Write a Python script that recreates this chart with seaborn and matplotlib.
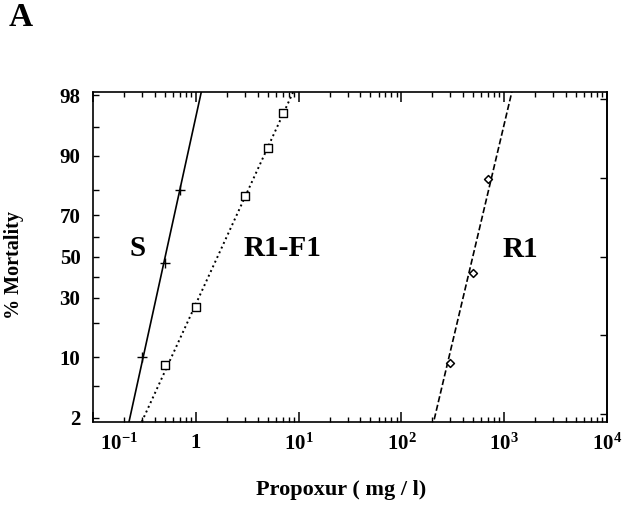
import numpy as np
import pandas as pd
import matplotlib
matplotlib.use("Agg")
import matplotlib.pyplot as plt
import matplotlib.ticker as mticker
import matplotlib.transforms as mtrans
import seaborn as sns
from statistics import NormalDist

# ---------------- data ----------------
s_dose = [0.3, 0.5, 0.7]
s_mort = [10, 47, 80]
f1_dose = [0.5, 1, 3, 5, 7]
f1_mort = [8.4, 26, 78, 91.6, 96.6]
r1_dose = [300, 500, 700]
r1_mort = [8.7, 41.5, 83.7]

# fitted probit lines: LC50 (mg/l) and slope (probits per decade)
fit_names = ["S", "R1-F1", "R1"]
fit_lc50 = [0.504, 1.63, 495]
fit_slope = [5.97, 2.85, 5.52]

ytick_pct = [2, 10, 30, 50, 70, 90, 98]
yminor_pct = [5, 20, 40, 60, 80, 95]
xtick_vals = [1e-1, 1, 1e1, 1e2, 1e3, 1e4]
xtick_labels = [r"$10^{-1}$", "1", r"$10^{1}$", r"$10^{2}$", r"$10^{3}$", r"$10^{4}$"]
right_probit = [-2, -1, 0, 1, 2]

ND = NormalDist()


def probit(p):
    return np.array([ND.inv_cdf(v / 100.0) for v in np.atleast_1d(p)])


# ---------------- style ----------------
sns.set_theme(style="white")
plt.rcParams["font.family"] = ["Liberation Serif", "DejaVu Serif"]
plt.rcParams["font.weight"] = "bold"
plt.rcParams["axes.labelweight"] = "bold"
plt.rcParams["text.color"] = "black"
plt.rcParams["axes.labelcolor"] = "black"
plt.rcParams["xtick.color"] = "black"
plt.rcParams["ytick.color"] = "black"
plt.rcParams["mathtext.fontset"] = "custom"
plt.rcParams["mathtext.rm"] = "Liberation Serif:bold"
plt.rcParams["mathtext.it"] = "Liberation Serif:bold"
plt.rcParams["mathtext.bf"] = "Liberation Serif:bold"
plt.rcParams["mathtext.default"] = "rm"

fig = plt.figure(figsize=(6.33, 5.09), dpi=100)
fig.patch.set_facecolor("white")
ax = fig.add_axes([93 / 633, 1 - 422 / 509, (607 - 93) / 633, (422 - 92) / 509])
ax.set_facecolor("white")

# fitted lines
styles = ["-", ":", "--"]
widths = [1.2, 1.4, 1.2]
zline = np.array([-2.4, 2.4])
for name, lc, sl, ls, lw in zip(fit_names, fit_lc50, fit_slope, styles, widths):
    xl = lc * 10 ** (zline / sl)
    kw = dict(dashes=(4, 4)) if ls == "--" else {}
    sns.lineplot(x=xl, y=zline, ax=ax, color="black", linestyle=ls, linewidth=lw,
                 sort=False, **kw)

# data points
sns.scatterplot(x=s_dose, y=probit(s_mort), ax=ax, marker="+", s=60, color="black",
                linewidth=1.0, zorder=5)
sns.scatterplot(x=f1_dose, y=probit(f1_mort), ax=ax, marker="s", s=34, facecolor="white",
                edgecolor="black", linewidth=1.0, zorder=5)
sns.scatterplot(x=r1_dose, y=probit(r1_mort), ax=ax, marker="D", s=16, facecolor="white",
                edgecolor="black", linewidth=1.1, zorder=5)

ax.set_xscale("log")
ax.set_xlim(1e-1, 1e4)
ax.set_ylim(-2.105, 2.095)

ax.set_xticks(xtick_vals)
ax.set_xticklabels(xtick_labels)
ax.xaxis.set_minor_locator(mticker.LogLocator(base=10, subs=np.arange(2, 10)))
ax.xaxis.set_minor_formatter(mticker.NullFormatter())

ax.set_yticks(probit(ytick_pct))
ax.set_yticklabels([str(v) for v in ytick_pct])
ax.set_yticks(probit(yminor_pct), minor=True)

ax.tick_params(axis="both", which="both", direction="in", colors="black")
ax.tick_params(axis="x", which="both", top=True, bottom=True)
ax.tick_params(axis="x", which="major", length=7, width=1.1, labelsize=15, pad=8)
ax.tick_params(axis="x", which="minor", length=3.5, width=1.0)
ax.tick_params(axis="y", which="both", left=True, right=False, length=4.5, width=1.0,
               labelsize=15, pad=9)

for lab in ax.get_yticklabels() + ax.get_xticklabels():
    lab.set_fontweight("bold")
    lab.set_color("black")

# shift the first x label to the right, as in the original
off = mtrans.ScaledTranslation(26 / 100, 0, fig.dpi_scale_trans)
xl0 = ax.get_xticklabels()[0]
xl0.set_transform(xl0.get_transform() + off)

# right axis: probit units, unlabelled ticks
sec = ax.secondary_yaxis("right")
sec.set_yticks(right_probit)
sec.tick_params(direction="in", length=5, width=1.0, labelright=False, colors="black")
sec.spines["right"].set_linewidth(1.2)
sec.spines["right"].set_color("black")

for sp in ax.spines.values():
    sp.set_visible(True)
    sp.set_color("black")
    sp.set_linewidth(1.2)

ax.set_xlabel("Propoxur ( mg / l)", fontsize=16, fontweight="bold", color="black")
ax.set_ylabel("% Mortality", fontsize=14.5, fontweight="bold", color="black")
ax.xaxis.set_label_coords(0.4825, -0.175)
ax.yaxis.set_label_coords(-0.134, 0.475)

# series labels
ax.text(0.274, 0.105, "S", fontsize=21, fontweight="bold", ha="center", va="center",
        color="black")
ax.text(6.9, 0.105, "R1-F1", fontsize=21, fontweight="bold", ha="center", va="center",
        color="black")
ax.text(1450, 0.095, "R1", fontsize=21, fontweight="bold", ha="center", va="center",
        color="black")

fig.text(21 / 633, 1 - 18 / 509, "A", fontsize=24, fontweight="bold", ha="center",
         va="center", color="black")

fig.savefig("out.png", dpi=100, facecolor="white")
